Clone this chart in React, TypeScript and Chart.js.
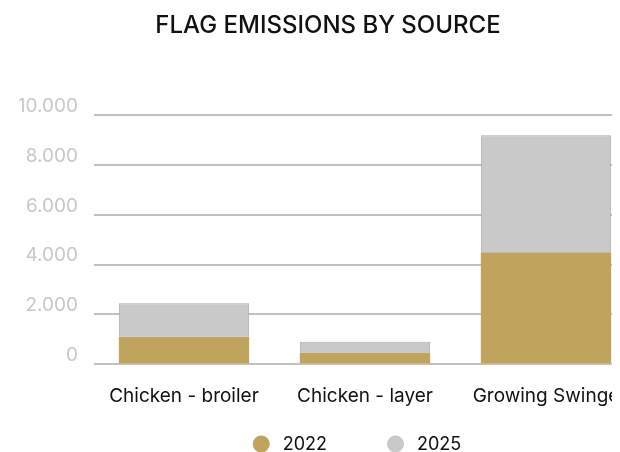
import React, { useEffect, useRef } from "react";
import { Chart, registerables } from "chart.js";

Chart.register(...registerables);

const categories = ["Chicken - broiler", "Chicken - layer", "Growing Swinge"];
const seriesLabels = ["2022", "2025"];
const values2022 = [1100, 470, 4500];
const values2025 = [1350, 430, 4700];
const yMax = 10000;
const yStep = 2000;

const FONT = "Inter, 'Noto Sans', sans-serif";
const GOLD = "#c0a45d";
const GREY = "#c9c9c9";

// Bottom legend: filled dots followed by the dataset labels, centred under the plot.
const dotLegend = {
  id: "dotLegend",
  afterDraw(chart: Chart) {
    const { ctx, chartArea } = chart;
    const r = 8.5;
    const textGap = 13;
    const itemGap = 60;
    ctx.save();
    ctx.font = `18px ${FONT}`;
    ctx.textBaseline = "middle";
    ctx.textAlign = "left";
    const items = chart.data.datasets.map((ds) => ({
      label: String(ds.label),
      color: String(ds.backgroundColor),
      w: ctx.measureText(String(ds.label)).width,
    }));
    const total =
      items.reduce((s, it) => s + 2 * r + textGap + it.w, 0) + itemGap * (items.length - 1);
    let x = (chartArea.left + chartArea.right) / 2 - 8 - total / 2;
    const y = chart.height - 8;
    items.forEach((it) => {
      ctx.fillStyle = it.color;
      ctx.beginPath();
      ctx.arc(x + r, y, r, 0, Math.PI * 2);
      ctx.fill();
      ctx.fillStyle = "#111111";
      ctx.fillText(it.label, x + 2 * r + textGap, y + 1);
      x += 2 * r + textGap + it.w + itemGap;
    });
    ctx.restore();
  },
};

export default function App() {
  const canvasRef = useRef<HTMLCanvasElement | null>(null);

  useEffect(() => {
    if (!canvasRef.current) return;
    const chart = new Chart(canvasRef.current, {
      type: "bar",
      data: {
        labels: categories,
        datasets: [
          {
            label: seriesLabels[0],
            data: values2022,
            backgroundColor: GOLD,
            borderWidth: 0,
            categoryPercentage: 0.8,
            barPercentage: 0.9,
          },
          {
            label: seriesLabels[1],
            data: values2025,
            backgroundColor: GREY,
            borderColor: "#adadad",
            borderWidth: 1,
            categoryPercentage: 0.8,
            barPercentage: 0.9,
          },
        ],
      },
      options: {
        animation: false,
        responsive: false,
        maintainAspectRatio: false,
        layout: { padding: { left: 11.5, right: 11.5, top: 0, bottom: 31 } },
        plugins: {
          title: {
            display: true,
            text: "FLAG EMISSIONS BY SOURCE",
            color: "#111111",
            font: { family: FONT, size: 24, weight: "500" },
            padding: { top: 3.5, bottom: 75 },
          },
          legend: { display: false },
          tooltip: { enabled: false },
        },
        scales: {
          x: {
            stacked: true,
            grid: { display: false },
            border: { display: false },
            ticks: {
              color: "#111111",
              font: { family: FONT, size: 19 },
              padding: 13,
              maxRotation: 0,
              autoSkip: false,
            },
          },
          y: {
            stacked: true,
            min: 0,
            max: yMax,
            afterFit: (scale) => {
              scale.width = 74;
            },
            grid: { color: "#c0c0c0", lineWidth: 2, drawTicks: false },
            border: { display: false },
            ticks: {
              stepSize: yStep,
              color: "#c8c8c8",
              font: { family: FONT, size: 19 },
              padding: 15.5,
              labelOffset: -9,
              callback: (v) => Number(v).toLocaleString("de-DE"),
            },
          },
        },
      },
      plugins: [dotLegend],
    });
    return () => chart.destroy();
  }, []);

  return (
    <div style={{ width: 612, height: 444, overflow: "hidden" }}>
      <div style={{ width: 640, height: 444 }}>
        <canvas ref={canvasRef} width={640} height={444} />
      </div>
    </div>
  );
}
